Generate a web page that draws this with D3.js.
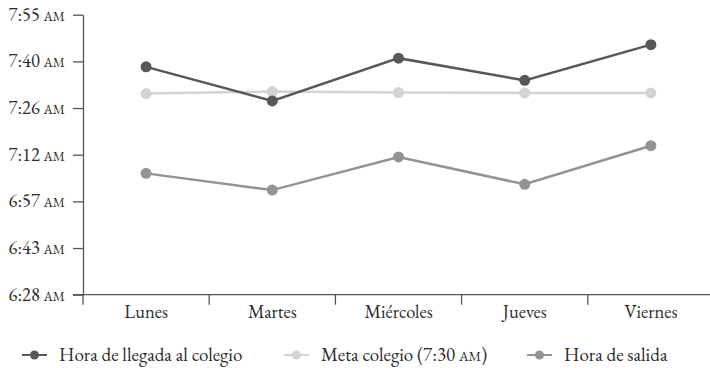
<!DOCTYPE html>
<html>
<head>
<meta charset="utf-8">
<script src="https://cdn.jsdelivr.net/npm/d3@7"></script>
<style>
  html, body { margin: 0; padding: 0; background: #fff; }
  svg { display: block; }
</style>
</head>
<body>
<svg id="chart" width="710" height="368"></svg>
<script>
// Days of the week (categories)
const dias = ["Lunes", "Martes", "Miércoles", "Jueves", "Viernes"];

// Times in minutes after midnight
const llegada = [458.8, 448.2, 461.5, 454.6, 465.7];
const meta    = [450.5, 451.1, 450.8, 450.7, 450.7];
const salida  = [425.7, 420.5, 430.8, 422.3, 434.3];

// Y-axis tick labels (bottom to top)
const yTickLabels = ["6:28", "6:43", "6:57", "7:12", "7:26", "7:40", "7:55"];
const yDomain = [388, 475];

const seriesNames = ["Hora de llegada al colegio", "Meta colegio (7:30 AM)", "Hora de salida"];
const seriesColors = ["#58585a", "#d3d3d3", "#939395"];
const seriesData = [llegada, meta, salida];

const FONT = "'EB Garamond', 'Liberation Serif', serif";

const svg = d3.select("#chart");
const margin = { left: 83, right: -4, top: 14.7, bottom: 73.3 };
const W = 710, H = 368;

const x = d3.scaleBand().domain(dias).range([margin.left, W - margin.right]);
const y = d3.scaleLinear().domain(yDomain).range([H - margin.bottom, margin.top]);

const axisColor = "#555";
const textColor = "#2b2b2b";

// Writes a label with "AM" set smaller, like small caps
function withAM(t, str, size) {
  const parts = str.split("AM");
  parts.forEach((p, k) => {
    if (p) t.append("tspan").text(p);
    if (k < parts.length - 1) t.append("tspan").attr("font-size", size).text("AM");
  });
}

// Y axis with evenly spaced ticks
const yTickVals = d3.range(yTickLabels.length).map(i => yDomain[0] + i * (yDomain[1] - yDomain[0]) / (yTickLabels.length - 1));
const yAxis = svg.append("g")
  .attr("transform", `translate(${margin.left},0)`)
  .call(d3.axisLeft(y).tickValues(yTickVals).tickSize(10).tickSizeOuter(0).tickPadding(8).tickFormat(() => ""));
yAxis.attr("font-family", null);
yAxis.selectAll("path, line").attr("stroke", axisColor).attr("stroke-width", 1.3);
yAxis.selectAll(".tick text").each(function(d, i) {
  const t = d3.select(this)
    .style("font-family", FONT)
    .attr("font-size", 18.5)
    .attr("fill", textColor)
    .attr("dy", "0.3em");
  t.text(null);
  withAM(t, yTickLabels[i] + " AM", 13.5);
});

// X axis: labels centred in bands, ticks on band boundaries
const xAxisY = H - margin.bottom;
const xAxis = svg.append("g")
  .attr("transform", `translate(0,${xAxisY})`)
  .call(d3.axisBottom(x).tickSize(0).tickSizeOuter(0).tickPadding(10));
xAxis.attr("font-family", null);
xAxis.select(".domain").attr("stroke", axisColor).attr("stroke-width", 1.3)
  .attr("d", `M${margin.left - 10},0H${W}`);
xAxis.selectAll(".tick text").style("font-family", FONT).attr("font-size", 18.5).attr("fill", textColor).attr("dy", "0.71em");
const boundaries = dias.map(d => x(d)).concat([x(dias[dias.length - 1]) + x.bandwidth()]);
xAxis.selectAll("line.bound")
  .data(boundaries)
  .join("line")
  .attr("class", "bound")
  .attr("x1", d => d).attr("x2", d => d)
  .attr("y1", 0).attr("y2", 10)
  .attr("stroke", axisColor).attr("stroke-width", 1.3);

// Lines and points
const cx = d => x(d) + x.bandwidth() / 2;
const line = d3.line().x((v, i) => cx(dias[i])).y(v => y(v));

const drawOrder = [1, 2, 0];
drawOrder.forEach(s => {
  const g = svg.append("g");
  g.append("path")
    .datum(seriesData[s])
    .attr("d", line)
    .attr("fill", "none")
    .attr("stroke", seriesColors[s])
    .attr("stroke-width", 2.5);
  g.selectAll("circle")
    .data(seriesData[s])
    .join("circle")
    .attr("cx", (v, i) => cx(dias[i]))
    .attr("cy", v => y(v))
    .attr("r", 5.5)
    .attr("fill", seriesColors[s]);
});

// Legend
const legendY = 355;
const legendX = [22, 284, 527];
seriesNames.forEach((name, i) => {
  const g = svg.append("g").attr("transform", `translate(${legendX[i]},${legendY})`);
  g.append("line").attr("x1", 0).attr("x2", 25).attr("y1", 0).attr("y2", 0)
    .attr("stroke", seriesColors[i]).attr("stroke-width", 2);
  g.append("circle").attr("cx", 12.5).attr("cy", 0).attr("r", 4.5).attr("fill", seriesColors[i]);
  const t = g.append("text").attr("x", 37).attr("y", 0).attr("dy", "0.3em")
    .style("font-family", FONT).attr("font-size", 19).attr("fill", textColor);
  withAM(t, name, 14);
});
</script>
</body>
</html>
